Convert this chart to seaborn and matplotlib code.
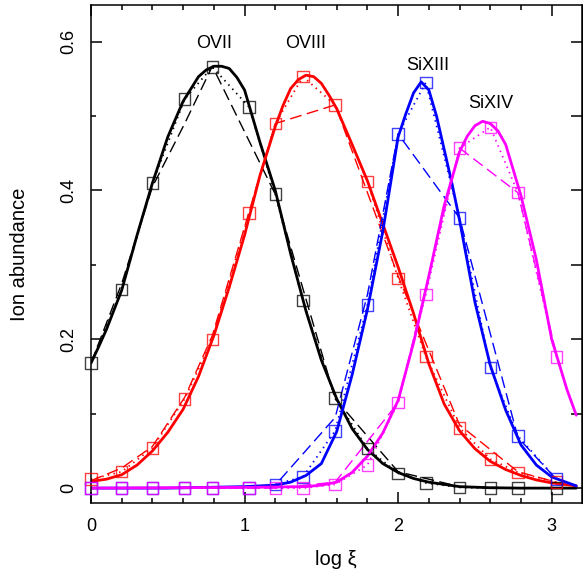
import numpy as np
import pandas as pd
import seaborn as sns
import matplotlib.pyplot as plt
from matplotlib.ticker import MultipleLocator

sns.set_style("ticks", {"axes.edgecolor": "black", "xtick.color": "black",
                        "ytick.color": "black", "text.color": "black",
                        "axes.labelcolor": "black",
                        "xtick.direction": "in", "ytick.direction": "in"})
plt.rcParams['font.family'] = ['Liberation Sans', 'DejaVu Sans']

ions = ["OVII", "OVIII", "SiXIII", "SiXIV"]
colors = ["black", "red", "blue", "magenta"]

# smooth model curves (solid)
fine_x_ovii = [0, 0.05, 0.1, 0.2, 0.3, 0.4, 0.5, 0.6, 0.7, 0.75, 0.8, 0.85, 0.9, 0.95,
               1.0, 1.1, 1.2, 1.3, 1.4, 1.5, 1.6, 1.7, 1.8, 1.9, 2.0, 2.1, 2.2, 2.4,
               2.6, 2.8, 3.0, 3.16]
fine_ovii = [0.168, 0.19, 0.213, 0.266, 0.34, 0.41, 0.472, 0.52, 0.553, 0.562, 0.567,
             0.567, 0.564, 0.552, 0.535, 0.465, 0.4, 0.315, 0.238, 0.172, 0.12, 0.08,
             0.052, 0.033, 0.021, 0.013, 0.008, 0.002, 0.0005, 0, 0, 0]

fine_x_oviii = [0, 0.1, 0.2, 0.3, 0.4, 0.5, 0.6, 0.7, 0.8, 0.9, 1.0, 1.1, 1.2, 1.25,
                1.3, 1.35, 1.4, 1.45, 1.5, 1.55, 1.6, 1.7, 1.8, 1.9, 2.0, 2.1, 2.2,
                2.3, 2.4, 2.5, 2.6, 2.7, 2.8, 2.9, 3.0, 3.16]
fine_oviii = [0.009, 0.012, 0.018, 0.031, 0.05, 0.075, 0.106, 0.15, 0.205, 0.27, 0.34,
              0.42, 0.486, 0.514, 0.537, 0.549, 0.555, 0.553, 0.544, 0.528, 0.51, 0.462,
              0.413, 0.355, 0.297, 0.235, 0.167, 0.113, 0.077, 0.053, 0.036, 0.025,
              0.017, 0.011, 0.007, 0.003]

fine_x_sixiii = [0, 0.5, 1.0, 1.2, 1.3, 1.4, 1.5, 1.6, 1.7, 1.8, 1.9, 2.0, 2.05, 2.1,
                 2.15, 2.2, 2.25, 2.3, 2.35, 2.4, 2.45, 2.5, 2.6, 2.7, 2.8, 2.9, 3.0, 3.16]
fine_sixiii = [0, 0, 0.002, 0.004, 0.008, 0.017, 0.033, 0.076, 0.152, 0.24, 0.345, 0.472,
               0.503, 0.531, 0.546, 0.535, 0.5, 0.455, 0.41, 0.36, 0.305, 0.25, 0.165,
               0.105, 0.058, 0.031, 0.015, 0.003]

fine_x_sixiv = [0, 1.0, 1.4, 1.5, 1.6, 1.7, 1.8, 1.9, 2.0, 2.1, 2.2, 2.3, 2.4, 2.45,
                2.5, 2.55, 2.6, 2.65, 2.7, 2.8, 2.9, 3.0, 3.1, 3.16]
fine_sixiv = [0, 0.001, 0.002, 0.004, 0.008, 0.021, 0.043, 0.074, 0.118, 0.195, 0.285,
              0.38, 0.452, 0.473, 0.487, 0.493, 0.49, 0.48, 0.462, 0.393, 0.307, 0.2,
              0.132, 0.098]

# sampled model (squares joined by dotted line)
pts_x = [0, 0.2, 0.4, 0.61, 0.79, 1.03, 1.2, 1.38, 1.59, 1.8, 2.0, 2.18, 2.4, 2.6, 2.78, 3.03]
pts_ovii = [0.168, 0.267, 0.41, 0.523, 0.566, 0.512, 0.395, 0.252, 0.121, 0.053, 0.02,
            0.007, 0.001, 0, 0, 0]
pts_oviii = [0.012, 0.022, 0.054, 0.12, 0.2, 0.37, 0.49, 0.553, 0.515, 0.412, 0.282,
             0.177, 0.081, 0.039, 0.021, 0.008]
pts_sixiii = [0, 0, 0, 0, 0, 0, 0.005, 0.015, 0.077, 0.246, 0.476, 0.545, 0.363, 0.162,
              0.07, 0.012]
pts_sixiv = [0, 0, 0, 0, 0, 0, 0, 0, 0.005, 0.031, 0.115, 0.26, 0.457, 0.485, 0.397, 0.176]

# coarse model (dashed)
dash_x_ovii = [0, 0.2, 0.4, 0.61, 0.79, 1.2, 1.59, 2.0, 2.4, 2.78, 3.03]
dash_ovii = [0.168, 0.275, 0.405, 0.49, 0.567, 0.395, 0.12, 0.022, 0.002, 0, 0]
dash_x_oviii = [0, 0.2, 0.4, 0.61, 0.79, 1.2, 1.59, 2.0, 2.4, 2.78, 3.03]
dash_oviii = [0.01, 0.027, 0.056, 0.122, 0.205, 0.49, 0.515, 0.285, 0.085, 0.022, 0.008]
dash_x_sixiii = [0, 0.79, 1.2, 1.59, 1.8, 2.0, 2.4, 2.78, 3.03]
dash_sixiii = [0, 0, 0.004, 0.095, 0.26, 0.476, 0.363, 0.068, 0.012]
dash_x_sixiv = [0, 1.2, 1.59, 2.0, 2.4, 2.78, 3.03]
dash_sixiv = [0, 0, 0.008, 0.115, 0.457, 0.397, 0.18]

# label anchor for each ion (x, baseline y)
label_x = [0.80, 1.40, 2.19, 2.60]
label_y = [0.591, 0.591, 0.562, 0.5105]

fine = [(fine_x_ovii, fine_ovii), (fine_x_oviii, fine_oviii),
        (fine_x_sixiii, fine_sixiii), (fine_x_sixiv, fine_sixiv)]
dashed = [(dash_x_ovii, dash_ovii), (dash_x_oviii, dash_oviii),
          (dash_x_sixiii, dash_sixiii), (dash_x_sixiv, dash_sixiv)]
points = [pts_ovii, pts_oviii, pts_sixiii, pts_sixiv]

fig = plt.figure(figsize=(5.83, 5.74), dpi=100)
ax = fig.add_axes([91 / 583, 1 - 502.7 / 574, 490.5 / 583, 497.7 / 574])

for i, ion in enumerate(ions):
    c = colors[i]
    sns.lineplot(x=fine[i][0], y=fine[i][1], color=c, lw=2.0, ax=ax, errorbar=None)
    sns.lineplot(x=dashed[i][0], y=dashed[i][1], color=c, lw=1.0,
                 linestyle=(0, (8.5, 4)), ax=ax, errorbar=None)
    sns.lineplot(x=pts_x, y=points[i], color=c, lw=1.3, linestyle=(0, (0.8, 2.4)),
                 ax=ax, errorbar=None)
    sns.scatterplot(x=pts_x, y=points[i], marker="s", s=68, facecolor="none",
                    edgecolor=c, linewidth=1.0, alpha=0.75, ax=ax, clip_on=False,
                    zorder=3)
    ax.text(label_x[i], label_y[i], ion, ha="center", va="baseline", fontsize=13)

ax.set_xlim(0, 3.194)
ax.set_ylim(-0.0196, 0.6493)
ax.set_xticks([0, 1, 2, 3], labels=["0", "1", "2", "3"])
ax.xaxis.set_minor_locator(MultipleLocator(0.2))
ax.set_yticks([0, 0.2, 0.4, 0.6], labels=["0", "0.2", "0.4", "0.6"])
ax.yaxis.set_minor_locator(MultipleLocator(0.1))
for lab in ax.get_yticklabels():
    lab.set_rotation(90)
    lab.set_va("center")

ax.tick_params(which="both", direction="in", top=True, right=False, width=1.1)
ax.tick_params(which="major", length=8)
ax.tick_params(which="minor", length=3.6)
ax.tick_params(axis="x", which="major", labelsize=13, pad=11)
ax.tick_params(axis="y", which="major", labelsize=13, pad=10)
for sp in ax.spines.values():
    sp.set_linewidth(1.1)

sec = ax.secondary_yaxis("right")
sec.set_yticks([0, 0.1, 0.2, 0.3, 0.4, 0.5, 0.6])
sec.tick_params(direction="in", length=8, width=1.1, labelright=False)

ax.set_xlabel("log ξ", fontsize=14.5)
ax.set_ylabel("Ion abundance", fontsize=14.5)
ax.xaxis.set_label_coords(0.5, -0.095)
ax.yaxis.set_label_coords(-0.1264, 0.5)

fig.savefig("out.png", dpi=100)
